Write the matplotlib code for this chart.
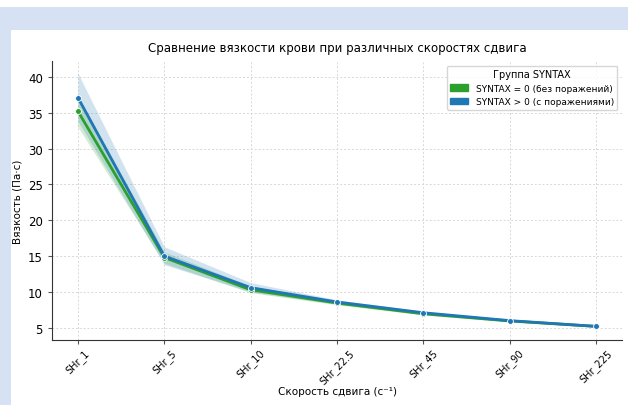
import matplotlib.pyplot as plt
from matplotlib.patches import Rectangle, Patch

# скорости сдвига и средние значения вязкости по группам
shear = ["SHr_1", "SHr_5", "SHr_10", "SHr_22.5", "SHr_45", "SHr_90", "SHr_225"]
mean_0 = [35.2, 14.8, 10.3, 8.45, 6.95, 5.95, 5.2]
lo_0 = [33.0, 14.0, 9.9, 8.2, 6.8, 5.85, 5.1]
hi_0 = [37.4, 15.6, 10.8, 8.7, 7.1, 6.05, 5.3]

mean_1 = [37.1, 15.0, 10.6, 8.6, 7.1, 6.0, 5.2]
lo_1 = [33.8, 13.8, 10.0, 8.3, 6.9, 5.9, 5.1]
hi_1 = [40.5, 16.3, 11.3, 8.9, 7.3, 6.1, 5.3]

green = "#2ca02c"
blue = "#1f77b4"

fig = plt.figure(figsize=(6.28, 4.06), dpi=100)
fig.patch.set_facecolor("white")
# светло-голубая рамка сверху и слева
fig.add_artist(Rectangle((0, 1 - 31 / 406), 1, 23 / 406, transform=fig.transFigure,
                         facecolor="#d6e2f3", edgecolor="none", zorder=-10))
fig.add_artist(Rectangle((0, 0), 11 / 628, 1 - 31 / 406, transform=fig.transFigure,
                         facecolor="#d6e2f3", edgecolor="none", zorder=-10))

ax = fig.add_axes([52 / 628, 1 - 341 / 406, (622 - 52) / 628, (341 - 62) / 406])
x = list(range(len(shear)))

ax.fill_between(x, lo_0, hi_0, color=green, alpha=0.2, linewidth=0)
ax.fill_between(x, lo_1, hi_1, color=blue, alpha=0.2, linewidth=0)
ax.plot(x, mean_0, color=green, lw=2.0, marker="o", ms=4.2, mec="white", mew=0.6)
ax.plot(x, mean_1, color=blue, lw=2.0, marker="o", ms=4.2, mec="white", mew=0.6)

ax.set_xticks(x)
ax.set_xticklabels(shear, rotation=45, fontsize=7)
ax.set_yticks([5, 10, 15, 20, 25, 30, 35, 40])
ax.tick_params(axis="y", labelsize=8.5, length=3, color="#555555")
ax.tick_params(axis="x", pad=2, length=3, color="#555555")
ax.set_xlim(-0.3, 6.3)
ax.set_ylim(3.3, 42.2)
ax.grid(True, linestyle=(0, (2, 2)), color="#d8d8d8", linewidth=0.7)
ax.set_axisbelow(True)
for s in ["top", "right"]:
    ax.spines[s].set_visible(False)
for s in ["left", "bottom"]:
    ax.spines[s].set_color("#333333")

ax.set_title("Сравнение вязкости крови при различных скоростях сдвига", fontsize=8.5, pad=7)
ax.set_xlabel("Скорость сдвига (с⁻¹)", fontsize=7.5, labelpad=0)
ax.set_ylabel("Вязкость (Па·с)", fontsize=7.5)

handles = [Patch(color=green, label="SYNTAX = 0 (без поражений)"),
           Patch(color=blue, label="SYNTAX > 0 (с поражениями)")]
ax.legend(handles=handles, title="Группа SYNTAX", loc="upper right", fontsize=6.5,
          title_fontsize=7, frameon=True)

fig.savefig("out.png", dpi=100)
